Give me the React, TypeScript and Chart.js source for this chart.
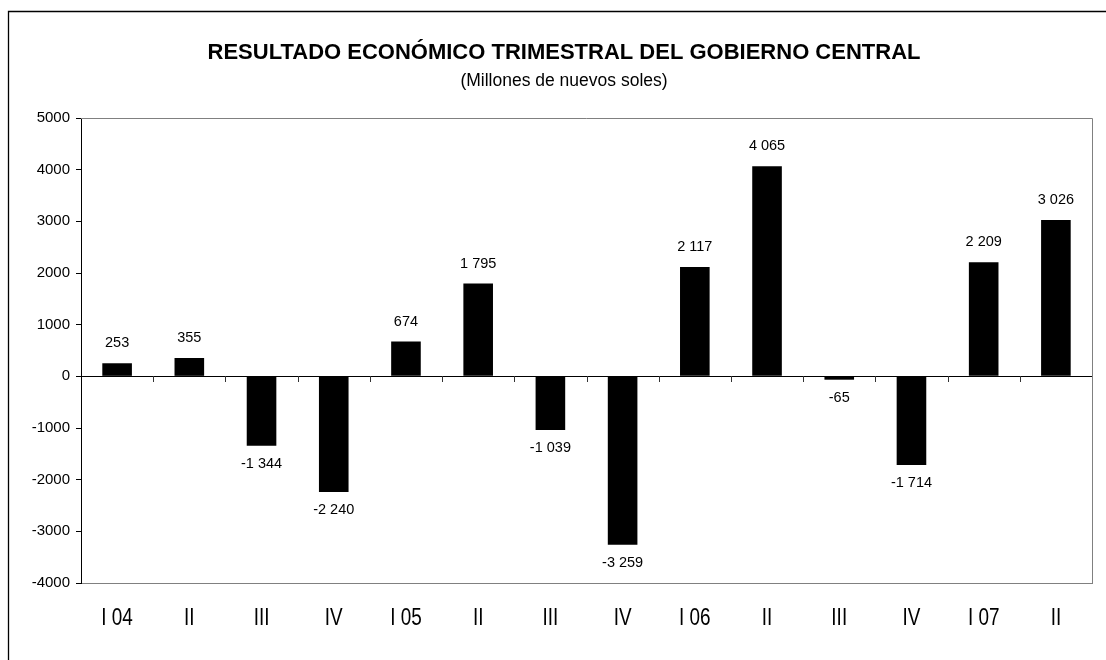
import React, { useEffect, useRef } from "react";
import { Chart, registerables } from "chart.js";

Chart.register(...registerables);

const categories = ["I 04", "II", "III", "IV", "I 05", "II", "III", "IV", "I 06", "II", "III", "IV", "I 07", "II"];
const values = [253, 355, -1344, -2240, 674, 1795, -1039, -3259, 2117, 4065, -65, -1714, 2209, 3026];
const yTicks = [5000, 4000, 3000, 2000, 1000, 0, -1000, -2000, -3000, -4000];
const titleText = "RESULTADO ECONÓMICO TRIMESTRAL DEL GOBIERNO CENTRAL";
const subtitleText = "(Millones de nuevos soles)";

const FONT = "'Liberation Sans', Arial, Helvetica, sans-serif";

const fmt = (v: number) => {
  const s = Math.abs(v).toString().replace(/\B(?=(\d{3})+(?!\d))/g, " ");
  return (v < 0 ? "-" : "") + s;
};

const decorPlugin = {
  id: "decor",
  afterDraw(chart: any) {
    const { ctx, chartArea, scales } = chart;
    const xs = scales.x;
    const ys = scales.y;
    ctx.save();
    // outer frame
    ctx.strokeStyle = "#000";
    ctx.lineWidth = 1.3;
    ctx.beginPath();
    ctx.moveTo(8.5, 660);
    ctx.lineTo(8.5, 11.5);
    ctx.lineTo(1106, 11.5);
    ctx.stroke();
    // plot top/right border
    ctx.strokeStyle = "#808080";
    ctx.lineWidth = 1;
    ctx.beginPath();
    ctx.moveTo(chartArea.left, Math.round(chartArea.top) + 0.5);
    ctx.lineTo(Math.round(chartArea.right) + 0.5, Math.round(chartArea.top) + 0.5);
    ctx.lineTo(Math.round(chartArea.right) + 0.5, chartArea.bottom);
    ctx.stroke();
    // category separator ticks on zero line
    const y0 = Math.round(ys.getPixelForValue(0));
    ctx.strokeStyle = "#333";
    ctx.beginPath();
    for (let i = 1; i < categories.length; i++) {
      const x = Math.round((xs.getPixelForValue(i - 1) + xs.getPixelForValue(i)) / 2) + 0.5;
      ctx.moveTo(x, y0);
      ctx.lineTo(x, y0 + 6);
    }
    ctx.stroke();
    // data labels
    ctx.fillStyle = "#000";
    ctx.font = `14.5px ${FONT}`;
    ctx.textAlign = "center";
    ctx.textBaseline = "alphabetic";
    const meta = chart.getDatasetMeta(0);
    meta.data.forEach((bar: any, i: number) => {
      const v = values[i];
      if (v >= 0) {
        ctx.fillText(fmt(v), bar.x, bar.y - 16);
      } else {
        ctx.fillText(fmt(v), bar.x, bar.y + 22);
      }
    });
    // x category labels (slightly condensed)
    ctx.font = `22px ${FONT}`;
    xs.ticks.forEach((t: any, i: number) => {
      const x = xs.getPixelForValue(i);
      ctx.save();
      ctx.translate(x, 625);
      ctx.scale(0.86, 1.05);
      ctx.fillText(categories[i], 0, 0);
      ctx.restore();
    });
    // title
    const cx = 564;
    ctx.font = `bold 22px ${FONT}`;
    ctx.fillText(titleText, cx, 59);
    ctx.font = `17.5px ${FONT}`;
    ctx.fillText(subtitleText, cx, 86);
    ctx.restore();
  },
};

export default function App() {
  const ref = useRef<HTMLCanvasElement | null>(null);
  useEffect(() => {
    if (!ref.current) return;
    const chart = new Chart(ref.current, {
      type: "bar",
      data: {
        labels: categories,
        datasets: [
          {
            data: values,
            backgroundColor: "#000",
            borderWidth: 0,
            barPercentage: 0.41,
            categoryPercentage: 1,
          },
        ],
      },
      options: {
        responsive: false,
        animation: false,
        layout: { padding: { top: 118, right: 14, left: 0, bottom: 0 } },
        plugins: {
          legend: { display: false },
          tooltip: { enabled: false },
          title: { display: false },
        },
        scales: {
          x: {
            grid: { display: false, drawTicks: false },
            border: { display: true, color: "#808080", width: 1 },
            ticks: { display: false },
            afterFit(scale: any) {
              scale.height = 77;
            },
          },
          y: {
            min: -4000,
            max: 5000,
            afterBuildTicks(scale: any) {
              scale.ticks = yTicks.map((v) => ({ value: v }));
            },
            grid: {
              color: (c: any) => (c.tick && c.tick.value === 0 ? "#000" : "rgba(0,0,0,0)"),
              tickColor: "#000",
              tickLength: 5,
              lineWidth: 1,
            },
            border: { display: true, color: "#000", width: 1 },
            ticks: {
              color: "#000",
              padding: 6,
              font: { family: FONT, size: 15 },
              callback: (v: any) => String(v),
            },
            afterFit(scale: any) {
              scale.width = 81;
            },
          },
        },
      },
      plugins: [decorPlugin],
    });
    return () => chart.destroy();
  }, []);
  return (
    <div style={{ position: "absolute", left: 0, top: 0, width: 1106, height: 660, background: "#fff" }}>
      <canvas ref={ref} width={1106} height={660} style={{ display: "block" }} />
    </div>
  );
}
